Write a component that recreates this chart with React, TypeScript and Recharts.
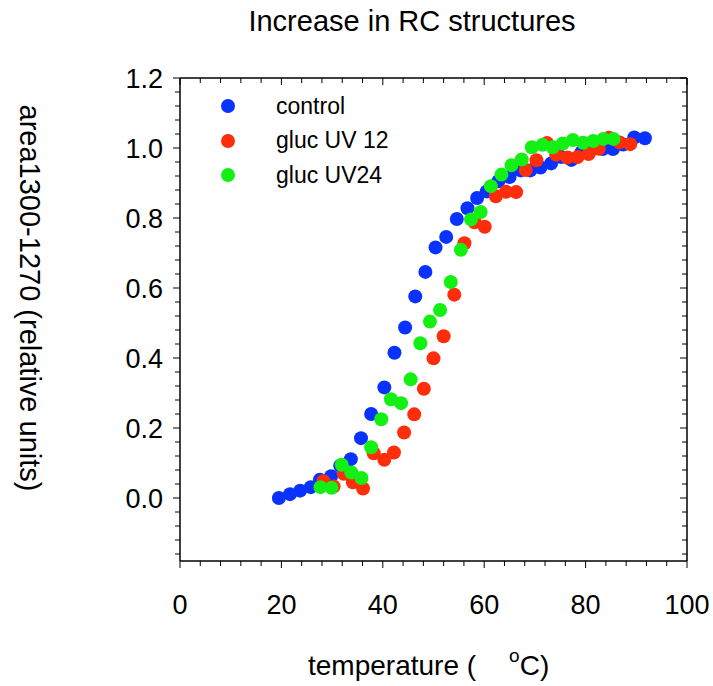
import React from 'react';
import { ScatterChart, Scatter, XAxis, YAxis, Legend, Customized } from 'recharts';

// ---- data ----
const controlTemp = [19.5, 21.7, 23.7, 25.8, 27.6, 29.8, 31.6, 33.7, 35.7, 37.7, 40.3, 42.3, 44.4, 46.4, 48.4, 50.4, 52.5, 54.6, 56.7, 58.6, 60.5, 62.8, 65.0, 67.2, 69.1, 71.1, 73.2, 75.2, 77.2, 79.2, 81.4, 83.4, 85.4, 87.4, 89.6, 91.7];
const controlArea = [0.0, 0.011, 0.021, 0.031, 0.052, 0.062, 0.092, 0.111, 0.171, 0.24, 0.316, 0.415, 0.487, 0.576, 0.646, 0.716, 0.746, 0.797, 0.828, 0.857, 0.876, 0.905, 0.917, 0.936, 0.936, 0.944, 0.956, 0.974, 0.966, 0.988, 0.998, 0.997, 0.997, 1.01, 1.03, 1.028];

const uv12Temp = [28.3, 30.3, 32.3, 34.1, 36.1, 38.2, 40.3, 42.2, 44.2, 46.2, 48.1, 50.0, 52.0, 54.1, 56.1, 58.1, 60.1, 62.3, 64.3, 66.3, 68.2, 70.3, 72.4, 74.2, 76.4, 78.4, 80.6, 82.6, 84.6, 86.7, 88.8];
const uv12Area = [0.048, 0.033, 0.069, 0.045, 0.027, 0.128, 0.109, 0.13, 0.187, 0.239, 0.312, 0.399, 0.462, 0.581, 0.728, 0.788, 0.775, 0.862, 0.875, 0.874, 0.937, 0.965, 1.014, 0.981, 0.973, 0.974, 0.983, 0.998, 1.029, 1.016, 1.011];

const uv24Temp = [27.7, 29.9, 31.9, 33.8, 35.8, 37.7, 39.7, 41.6, 43.6, 45.5, 47.4, 49.3, 51.3, 53.4, 55.4, 57.4, 59.3, 61.3, 63.4, 65.4, 67.4, 69.4, 71.5, 73.5, 75.5, 77.5, 79.5, 81.5, 83.5, 85.5];
const uv24Area = [0.031, 0.029, 0.095, 0.073, 0.057, 0.145, 0.225, 0.282, 0.271, 0.339, 0.442, 0.504, 0.537, 0.617, 0.709, 0.796, 0.817, 0.891, 0.924, 0.951, 0.967, 1.002, 1.009, 1.002, 1.013, 1.023, 1.015, 1.02, 1.026, 1.026];

const seriesNames = ['control', 'gluc UV 12', 'gluc UV24'];
const seriesColors = ['#0a32ff', '#ff2d0a', '#14f014'];

const xMajorTicks = [0, 20, 40, 60, 80, 100];
const xMinorStep = 4;
const yMajorTicks = [0.0, 0.2, 0.4, 0.6, 0.8, 1.0, 1.2];
const yMinorStep = 0.04;
const xDomain = [0, 100];
const yDomain = [-0.18, 1.2];

const title = 'Increase in RC structures';
const xLabel = 'temperature (';
const xLabelUnit = 'C)';
const yLabel = 'area1300-1270 (relative units)';

// ---- derived tables ----
const toPoints = (xs: number[], ys: number[]) => xs.map((x, i) => ({ x, y: ys[i] }));
const seriesData = [
  toPoints(controlTemp, controlArea),
  toPoints(uv12Temp, uv12Area),
  toPoints(uv24Temp, uv24Area),
];

const xTicks: number[] = [];
for (let v = xDomain[0]; v <= xDomain[1] + 1e-9; v += xMinorStep) xTicks.push(Math.round(v * 1000) / 1000);
const yTicks: number[] = [];
for (let i = Math.ceil(yDomain[0] / yMinorStep - 1e-9); i * yMinorStep <= yDomain[1] + 1e-9; i++) yTicks.push(Math.round(i * yMinorStep * 1000) / 1000);

const isXMajor = (v: number) => xMajorTicks.some((t) => Math.abs(t - v) < 1e-6);
const isYMajor = (v: number) => yMajorTicks.some((t) => Math.abs(t - v) < 1e-6);

const FONT = '"Liberation Sans", Arial, Helvetica, sans-serif';
const TICK_FS = 27;
const MAJOR = 7;
const MINOR = 5;

const BottomTick = (p: any) => {
  const v = p.payload.value;
  const major = isXMajor(v);
  return (
    <g>
      <line x1={p.x} x2={p.x} y1={p.y} y2={p.y + (major ? MAJOR : MINOR)} stroke="#000" strokeWidth={1} />
      {major && (
        <text x={p.x} y={p.y + 53} textAnchor="middle" fontSize={TICK_FS} fontFamily={FONT} fill="#000">
          {v}
        </text>
      )}
    </g>
  );
};

const TopTick = (p: any) => {
  const v = p.payload.value;
  const major = isXMajor(v);
  return <line x1={p.x} x2={p.x} y1={p.y} y2={p.y + (major ? MAJOR : MINOR)} stroke="#000" strokeWidth={1} />;
};

const LeftTick = (p: any) => {
  const v = p.payload.value;
  const major = isYMajor(v);
  return (
    <g>
      <line x1={p.x - (major ? MAJOR : MINOR)} x2={p.x} y1={p.y} y2={p.y} stroke="#000" strokeWidth={1} />
      {major && (
        <text x={p.x - 17} y={p.y + 9.5} textAnchor="end" fontSize={TICK_FS} fontFamily={FONT} fill="#000">
          {v.toFixed(1)}
        </text>
      )}
    </g>
  );
};

const RightTick = (p: any) => {
  const v = p.payload.value;
  const major = isYMajor(v);
  return <line x1={p.x - (major ? MAJOR : MINOR)} x2={p.x} y1={p.y} y2={p.y} stroke="#000" strokeWidth={1} />;
};

const makeDot = (color: string) => (props: any) => <circle cx={props.cx} cy={props.cy} r={7} fill={color} />;
const NoDot = () => <g />;

const LegendContent = () => (
  <div style={{ fontFamily: FONT, fontSize: 23, color: '#000' }}>
    {seriesNames.map((n, i) => (
      <div key={n} style={{ display: 'flex', alignItems: 'center', height: 34.5 }}>
        <svg width={36} height={20} style={{ display: 'block' }}>
          <circle cx={18} cy={10} r={7} fill={seriesColors[i]} />
        </svg>
        <span style={{ marginLeft: 30, whiteSpace: 'nowrap', lineHeight: '23px' }}>{n}</span>
      </div>
    ))}
  </div>
);

const TitleText = () => (
  <text x={412} y={31} textAnchor="middle" fontSize={29} fontFamily={FONT} fill="#000">
    {title}
  </text>
);

const XLabelText = () => (
  <text x={308} y={675} textAnchor="start" fontSize={28} fontFamily={FONT} fill="#000">
    {xLabel}
    <tspan dx={33} dy={-13} fontSize={19}>o</tspan>
    <tspan dy={13} fontSize={28}>{xLabelUnit}</tspan>
  </text>
);

const YLabelText = () => (
  <text x={30} y={298} textAnchor="middle" dominantBaseline="central" fontSize={29} fontFamily={FONT} fill="#000" transform="rotate(90, 30, 298)">
    {yLabel}
  </text>
);

export default function App() {
  return (
    <div style={{ position: 'absolute', left: 0, top: 0, width: 713, height: 686, background: '#fff' }}>
      <ScatterChart width={713} height={686} margin={{ top: 77, right: 25, left: 120, bottom: 65 }}>
        <XAxis
          xAxisId="b"
          type="number"
          dataKey="x"
          domain={xDomain}
          ticks={xTicks}
          interval={0}
          orientation="bottom"
          height={60}
          tickSize={0}
          tickMargin={0}
          tick={<BottomTick />}
          tickLine={false}
          axisLine={{ stroke: '#000', strokeWidth: 1.5 }}
          allowDataOverflow
        />
        <XAxis
          xAxisId="t"
          type="number"
          dataKey="x"
          domain={xDomain}
          ticks={xTicks}
          interval={0}
          orientation="top"
          height={1}
          tickSize={0}
          tickMargin={0}
          tick={<TopTick />}
          tickLine={false}
          axisLine={{ stroke: '#000', strokeWidth: 1.5 }}
          allowDataOverflow
        />
        <YAxis
          yAxisId="l"
          type="number"
          dataKey="y"
          domain={yDomain}
          ticks={yTicks}
          interval={0}
          orientation="left"
          width={60}
          tickSize={0}
          tickMargin={0}
          tick={<LeftTick />}
          tickLine={false}
          axisLine={{ stroke: '#000', strokeWidth: 1.5 }}
          allowDataOverflow
        />
        <YAxis
          yAxisId="r"
          type="number"
          dataKey="y"
          domain={yDomain}
          ticks={yTicks}
          interval={0}
          orientation="right"
          width={1}
          tickSize={0}
          tickMargin={0}
          tick={<RightTick />}
          tickLine={false}
          axisLine={{ stroke: '#000', strokeWidth: 1.5 }}
          allowDataOverflow
        />
        <Scatter
          name="_frame"
          legendType="none"
          data={seriesData[0]}
          xAxisId="t"
          yAxisId="r"
          shape={<NoDot />}
          isAnimationActive={false}
        />
        {seriesData.map((d, i) => (
          <Scatter
            key={seriesNames[i]}
            name={seriesNames[i]}
            data={d}
            xAxisId="b"
            yAxisId="l"
            fill={seriesColors[i]}
            shape={makeDot(seriesColors[i])}
            isAnimationActive={false}
          />
        ))}
        <Legend
          layout="vertical"
          align="center"
          verticalAlign="middle"
          content={<LegendContent />}
          wrapperStyle={{ position: 'absolute', left: 210, top: 89, width: 260, height: 110 }}
        />
        <Customized component={TitleText} />
        <Customized component={XLabelText} />
        <Customized component={YLabelText} />
      </ScatterChart>
    </div>
  );
}
